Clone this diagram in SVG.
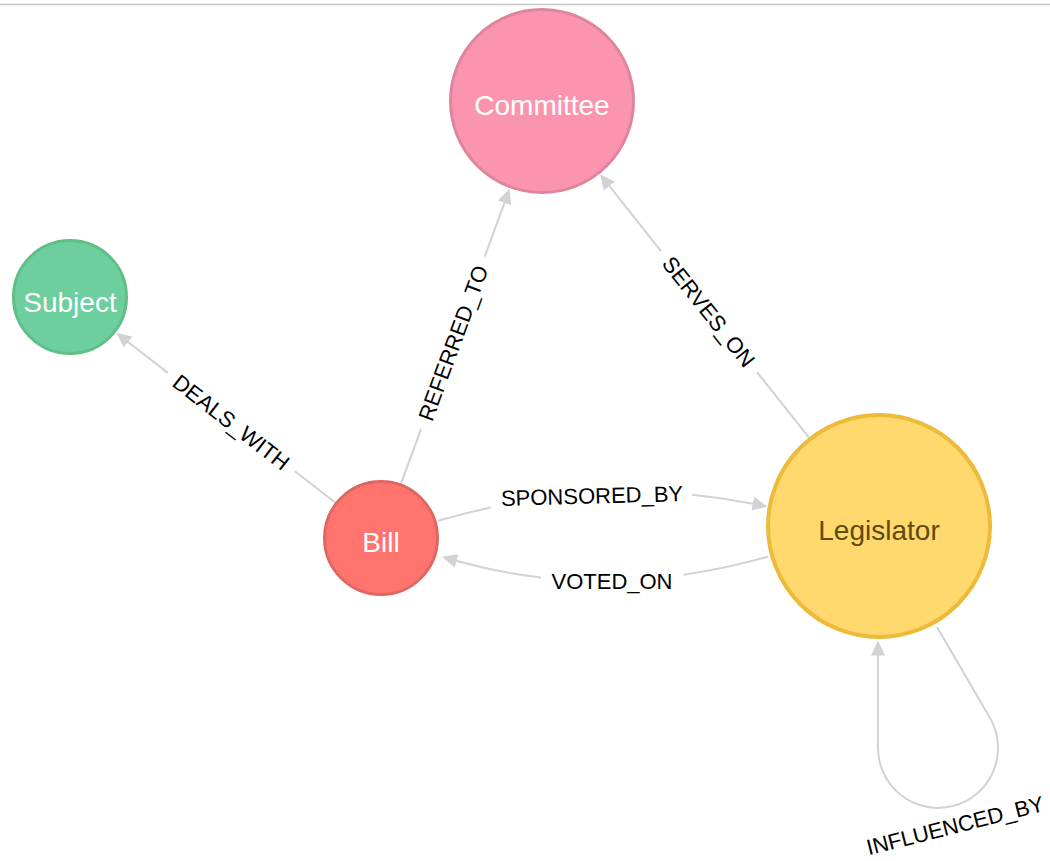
<svg xmlns="http://www.w3.org/2000/svg" width="1050" height="861" viewBox="0 0 1050 861">
<style>
.node-label{font-family:"Liberation Sans",Arial,Helvetica,sans-serif;font-size:28px;text-anchor:middle}
.edge-label{font-family:"Liberation Sans",Arial,Helvetica,sans-serif;font-size:22px;text-anchor:middle;fill:#000000}
.edge{fill:none;stroke:#D0D2D5;stroke-width:2}
</style>
<defs>
<marker id="arrow" viewBox="0 -7 15 14" refX="0.5" refY="0" markerWidth="15" markerHeight="14" markerUnits="userSpaceOnUse" orient="auto">
<path d="M0,-7 L15,0 L0,7 Z" fill="#D0D2D5"/>
</marker>
</defs>
<rect x="0" y="0" width="1050" height="861" fill="#FFFFFF"/>
<line x1="0" y1="4.5" x2="1050" y2="4.5" stroke="#C8C8C8" stroke-width="1.5"/>

<g id="connectors">
<g id="edge-deals-with">
<line class="edge" x1="335.15" y1="502.47" x2="294.92" y2="471.29"/>
<line class="edge" x1="167.96" y1="372.9" x2="127.7" y2="341.7" marker-end="url(#arrow)"/>
<text class="edge-label" transform="translate(231.44,422.1) rotate(37.77)" y="8">DEALS_WITH</text>
</g>
<g id="edge-referred-to">
<line class="edge" x1="401.05" y1="483.58" x2="421.09" y2="429.19"/>
<line class="edge" x1="484.63" y1="256.72" x2="504.66" y2="202.34" marker-end="url(#arrow)"/>
<text class="edge-label" transform="translate(452.86,342.95) rotate(-69.78)" y="8">REFERRED_TO</text>
</g>
<g id="edge-serves-on">
<line class="edge" x1="808.79" y1="437.46" x2="756.94" y2="372.07"/>
<line class="edge" x1="660.95" y1="251.01" x2="609.1" y2="185.62" marker-end="url(#arrow)"/>
<text class="edge-label" transform="translate(708.94,311.54) rotate(51.58)" y="8">SERVES_ON</text>
</g>
<g id="edge-sponsored-by">
<path class="edge" d="M438,520.7 Q603,473.7 753.29,503.76" pathLength="100" stroke-dasharray="17 63.5 100" marker-end="url(#arrow)"/>
<text class="edge-label" transform="translate(592,495.5) rotate(-1.5)" y="8">SPONSORED_BY</text>
</g>
<g id="edge-voted-on">
<path class="edge" d="M768,556.7 Q604.85,602.7 456.14,560.77" pathLength="100" stroke-dasharray="27.3 45.3 100" marker-end="url(#arrow)"/>
<text class="edge-label" transform="translate(612,580.5)" y="8">VOTED_ON</text>
</g>
<g id="edge-influenced-by">
<path class="edge" d="M937,627 L989.9,717.8 A60,60 0 1 1 878,748 L878,655" marker-end="url(#arrow)"/>
<text class="edge-label" transform="translate(957,833) rotate(-14.2)">INFLUENCED_BY</text>
</g>
</g>

<g id="node-committee">
<circle cx="542" cy="101" r="91.5" fill="#FB95AF" stroke="#E0849B" stroke-width="3"/>
<text class="node-label" x="542" y="115" fill="#FFFFFF">Committee</text>
</g>
<g id="node-subject">
<circle cx="70" cy="297" r="56.5" fill="#6DCE9E" stroke="#60BE86" stroke-width="3"/>
<text class="node-label" x="70" y="312" fill="#FFFFFF">Subject</text>
</g>
<g id="node-bill">
<circle cx="381" cy="538" r="56.5" fill="#FF756E" stroke="#E06760" stroke-width="3"/>
<text class="node-label" x="381" y="552" fill="#FFFFFF">Bill</text>
</g>
<g id="node-legislator">
<circle cx="879" cy="526" r="111" fill="#FFD86E" stroke="#EDBA39" stroke-width="4"/>
<text class="node-label" x="879" y="540" fill="#604A0E">Legislator</text>
</g>
</svg>
